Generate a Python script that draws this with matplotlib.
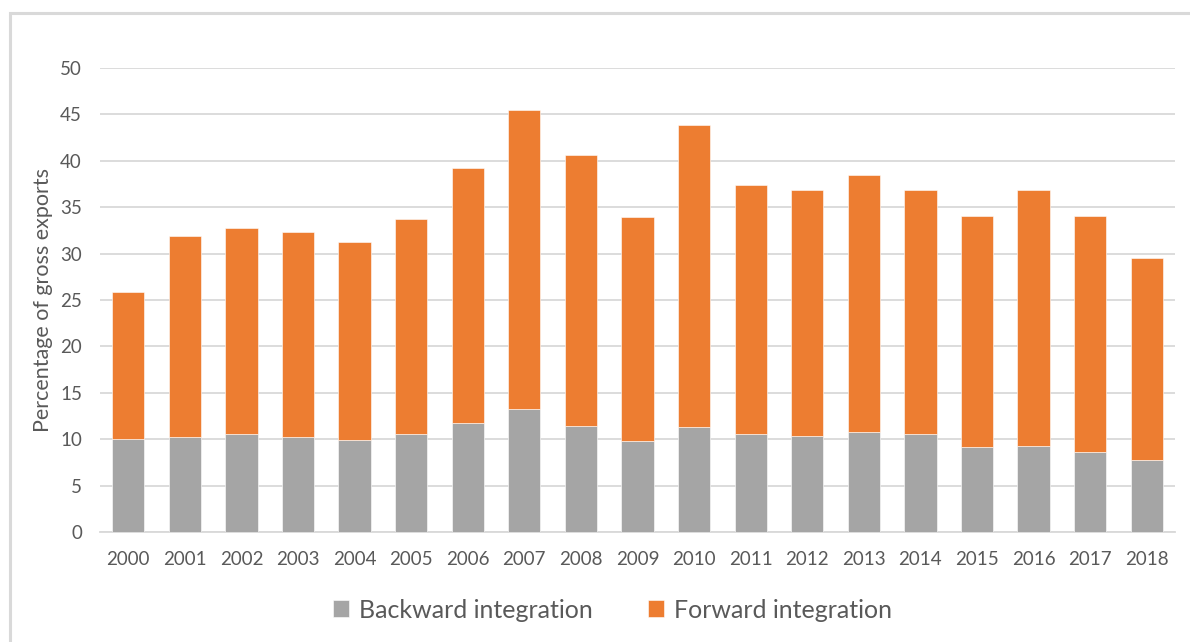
import matplotlib
matplotlib.use("Agg")
import matplotlib.pyplot as plt
from matplotlib.patches import Rectangle

years = ["2000", "2001", "2002", "2003", "2004", "2005", "2006", "2007", "2008", "2009",
         "2010", "2011", "2012", "2013", "2014", "2015", "2016", "2017", "2018"]
backward = [10.0, 10.25, 10.55, 10.25, 9.9, 10.55, 11.7, 13.3, 11.45, 9.8,
            11.3, 10.55, 10.3, 10.8, 10.55, 9.15, 9.3, 8.65, 7.8]
forward = [15.9, 21.65, 22.25, 22.05, 21.3, 23.15, 27.5, 32.2, 29.15, 24.1,
           32.6, 26.85, 26.55, 27.65, 26.3, 24.9, 27.55, 25.4, 21.7]
y_ticks = [0, 5, 10, 15, 20, 25, 30, 35, 40, 45, 50]

plt.rcParams["font.family"] = ["Lato", "DejaVu Sans"]
text_color = "#595959"
grid_color = "#d9d9d9"

fig = plt.figure(figsize=(11.9, 6.42), dpi=100)
fig.patch.set_facecolor("white")

# outer chart frame
fig.add_artist(Rectangle((10 / 1190, -0.01), 1.02, 1 - 13 / 642 + 0.01,
                         transform=fig.transFigure, fill=False,
                         edgecolor=grid_color, linewidth=2.2))

ax = fig.add_axes([100 / 1190, 1 - 532 / 642, 1075 / 1190, 464 / 642])
x = range(len(years))
ax.bar(x, backward, width=0.57, color="#A5A5A5", edgecolor="white", linewidth=0.4,
       label="Backward integration", zorder=3)
ax.bar(x, forward, width=0.57, bottom=backward, color="#ED7D31", edgecolor="white",
       linewidth=0.4, label="Forward integration", zorder=3)

ax.set_xlim(-0.5, len(years) - 0.5)
ax.set_ylim(0, 50)
ax.set_yticks(y_ticks)
ax.set_xticks(list(x))
ax.set_xticklabels(years)
ax.yaxis.grid(True, color=grid_color, linewidth=1.3, zorder=0)
ax.set_axisbelow(True)
for s in ["top", "right", "left"]:
    ax.spines[s].set_visible(False)
ax.spines["bottom"].set_color(grid_color)
ax.spines["bottom"].set_linewidth(1.3)
ax.tick_params(axis="both", length=0, labelsize=13.5, colors=text_color)
ax.tick_params(axis="y", pad=13)
ax.tick_params(axis="x", pad=14)
ax.set_ylabel("Percentage of gross exports", fontsize=15.5, color=text_color, labelpad=5)

fig.legend(loc="center", bbox_to_anchor=(0.515, 1 - 610 / 642), ncol=2, frameon=False,
           fontsize=18, labelcolor=text_color, handlelength=0.65, handleheight=0.65,
           handletextpad=0.4, columnspacing=2.2)

fig.savefig("out.png", dpi=100)
